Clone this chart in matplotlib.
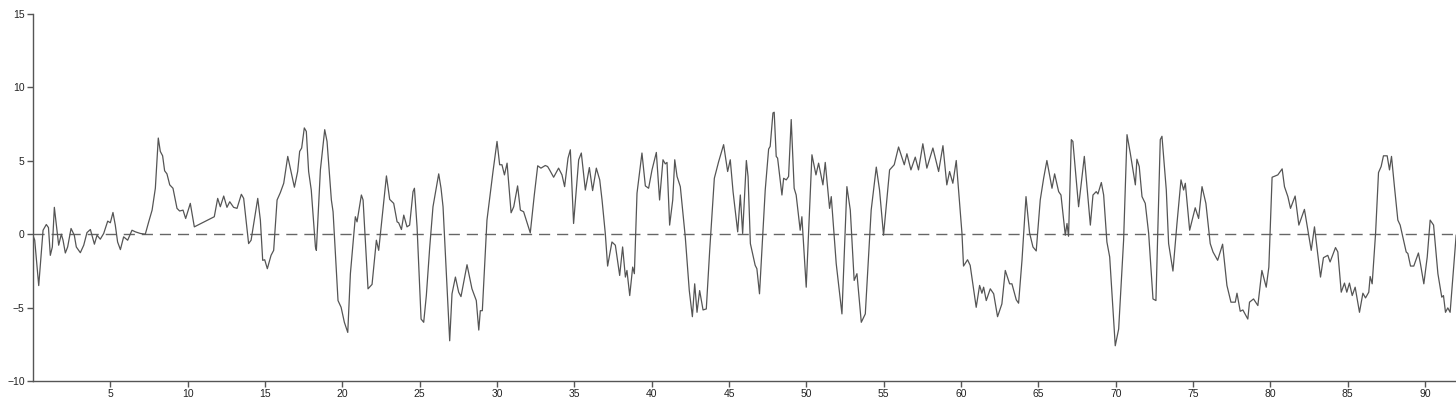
import matplotlib
matplotlib.use('Agg')
import matplotlib.pyplot as plt

# values, (time, value)
t = [0.0, 0.11, 0.37, 0.65, 0.86, 1.0, 1.12, 1.25, 1.38, 1.66, 1.83, 1.94, 2.09, 2.24, 2.46,
     2.67, 2.8, 3.06, 3.28, 3.49, 3.71, 3.97, 4.14, 4.35, 4.57, 4.83, 5.0, 5.17, 5.32, 5.47,
     5.65, 5.86, 6.12, 6.4, 6.62, 6.94, 7.26, 7.48, 7.7, 7.91, 8.1, 8.23, 8.38, 8.51, 8.66,
     8.84, 9.05, 9.31, 9.48, 9.7, 9.87, 10.17, 10.43, 11.72, 11.94, 12.11, 12.33, 12.54, 12.72,
     12.97, 13.19, 13.47, 13.62, 13.75, 13.94, 14.1, 14.31, 14.53, 14.7, 14.85, 14.98, 15.15,
     15.39, 15.56, 15.78, 15.99,
     16.21, 16.47, 16.9, 17.11, 17.24, 17.37, 17.54, 17.67, 17.82, 17.99, 18.26, 18.32, 18.58,
     18.86, 19.01, 19.29, 19.4, 19.72, 19.92, 20.13, 20.35, 20.52, 20.84, 20.95, 21.23, 21.34,
     21.66, 21.92, 22.2, 22.35, 22.85, 23.06, 23.32, 23.54, 23.64, 23.82, 23.97, 24.18, 24.35,
     24.57, 24.66, 24.83, 25.09, 25.26, 25.43, 25.65, 25.86, 26.23, 26.38, 26.51, 26.94, 27.09,
     27.31, 27.52, 27.67, 28.06, 28.38, 28.66, 28.82, 28.92, 29.05, 29.35, 29.74, 30.0, 30.17,
     30.32, 30.48, 30.65, 30.91,
     31.08, 31.33, 31.51, 31.72, 32.15, 32.41, 32.63, 32.84, 33.12, 33.27, 33.4, 33.66, 33.98,
     34.2, 34.37, 34.59, 34.74, 34.95, 35.28, 35.45, 35.71, 35.97, 36.18, 36.42, 36.64, 36.79,
     37.0, 37.15, 37.43, 37.65, 37.93, 38.12, 38.3, 38.4, 38.58, 38.77, 38.88, 39.05, 39.37,
     39.59, 39.8, 40.02, 40.3, 40.51, 40.73, 40.88, 40.99, 41.16, 41.36, 41.49, 41.64, 41.85,
     42.17, 42.43, 42.63, 42.78, 42.93, 43.1, 43.32, 43.53, 43.75, 44.05, 44.33, 44.65, 44.91,
     45.08, 45.26, 45.56, 45.73, 45.88, 46.12, 46.23,
     46.38, 46.69, 46.8, 46.97, 47.34, 47.56, 47.66, 47.84, 47.92, 48.05, 48.14, 48.42, 48.53,
     48.7, 48.85, 49.02, 49.21, 49.34, 49.6, 49.71, 49.99, 50.36, 50.62, 50.79, 51.07, 51.22,
     51.5, 51.61, 51.93, 52.3, 52.62, 52.84, 53.09, 53.27, 53.55, 53.81, 54.19, 54.52, 54.73,
     54.99, 55.38, 55.68, 55.96, 56.33, 56.5, 56.76, 57.04, 57.25, 57.53, 57.79, 58.18, 58.55,
     58.83, 59.08, 59.26, 59.47, 59.69, 60.06, 60.16, 60.42, 60.59, 60.98, 61.2, 61.35, 61.46,
     61.63, 61.89,
     62.11, 62.36, 62.64, 62.86, 63.14, 63.29, 63.57, 63.72, 63.94, 64.2, 64.43, 64.65, 64.86,
     65.12, 65.34, 65.55, 65.88, 66.05, 66.31, 66.46, 66.74, 66.85, 66.95, 67.13, 67.23, 67.6,
     67.97, 68.36, 68.53, 68.74, 68.85, 69.07, 69.22, 69.43, 69.61, 69.97, 70.19, 70.51, 70.73,
     70.94, 71.27, 71.37, 71.52, 71.7, 71.91, 72.13, 72.41, 72.6, 72.88, 72.99, 73.27, 73.42,
     73.7, 73.96, 74.22, 74.39, 74.5, 74.78, 75.14, 75.36, 75.58, 75.83, 76.11, 76.29, 76.59,
     76.91, 77.19, 77.45, 77.73, 77.84,
     78.05, 78.22, 78.54, 78.65, 78.91, 79.19, 79.45, 79.73, 79.9, 80.11, 80.48, 80.76, 80.91,
     81.13, 81.3, 81.6, 81.84, 82.2, 82.64, 82.85, 83.24, 83.43, 83.71, 83.86, 84.21, 84.36,
     84.58, 84.79, 84.94, 85.11, 85.29, 85.48, 85.76, 85.98, 86.15, 86.36, 86.45, 86.58, 86.8,
     86.99, 87.16, 87.31, 87.55, 87.7, 87.83, 88.02, 88.24, 88.39, 88.78, 88.89, 89.06, 89.27,
     89.57, 89.7, 89.92, 90.14, 90.33, 90.55, 90.83, 91.08, 91.19, 91.32, 91.47, 91.62, 92.01]

v = [-0.1, -0.4, -3.5, 0.27, 0.66, 0.45, -1.44, -0.87, 1.83, -0.75, 0.0, -0.4, -1.28, -0.87, 0.39,
     -0.07, -0.87, -1.26, -0.75, 0.11, 0.32, -0.68, -0.07, -0.34, 0.05, 0.89, 0.78, 1.48, 0.62, -0.53,
     -1.05, -0.18, -0.41, 0.27, 0.16, 0.05, 0.0, 0.84, 1.64, 3.13, 6.55, 5.64, 5.34, 4.32, 4.11,
     3.36, 3.13, 1.76, 1.58, 1.64, 1.07, 2.1, 0.5, 1.19, 2.44, 1.87, 2.6, 1.83, 2.21,
     1.83, 1.76, 2.72, 2.44, 1.19, -0.64, -0.41, 0.96, 2.44, 0.96, -1.78, -1.74, -2.35,
     -1.44, -1.1, 2.33, 2.83,
     3.47, 5.3, 3.2, 4.27, 5.64, 5.87, 7.24, 7.0, 4.27, 3.01, -0.87, -1.1, 4.38,
     7.12, 6.32, 2.33, 1.53, -4.52, -4.98, -6.0, -6.69, -2.69, 1.19, 0.84, 2.67, 2.33,
     -3.72, -3.42, -0.41, -1.1, 3.97, 2.37, 2.1, 0.84, 0.78, 0.32, 1.3, 0.5, 0.62,
     2.9, 3.13, 0.5, -5.78, -6.0, -4.18, -0.87, 1.87, 4.11, 3.13, 1.87, -7.26, -4.06,
     -2.92, -3.95, -4.25, -2.08, -3.72, -4.52, -6.53, -5.21, -5.21, 0.96, 4.27, 6.32, 4.73,
     4.73, 4.04, 4.84, 1.46,
     1.87, 3.29, 1.64, 1.53, 0.09, 2.67, 4.66, 4.5, 4.68, 4.61, 4.38, 3.88, 4.5,
     4.04, 3.24, 5.18, 5.75, 0.73, 5.07, 5.53, 3.01, 4.54, 2.97, 4.5, 3.7, 2.33,
     0.05, -2.17, -0.53, -0.75, -2.81, -0.87, -2.92, -2.47, -4.18, -2.24, -2.69, 2.79, 5.53,
     3.29, 3.13, 4.38, 5.57, 2.33, 5.07, 4.79, 4.89, 0.62, 2.33, 5.07, 3.93, 3.24,
     -0.18, -3.84, -5.62, -3.38, -5.32, -3.84, -5.16, -5.09, -1.1, 3.81, 4.95, 6.1, 4.27,
     5.07, 2.9, 0.16, 2.67, 0.05, 5.02, 3.93,
     -0.64, -2.12, -2.35, -4.06, 3.01, 5.8, 5.98, 8.26, 8.31, 5.3, 5.18, 2.67, 3.81,
     3.7, 3.93, 7.81, 3.13, 2.67, 0.27, 1.19, -3.61, 5.41, 4.04, 4.84, 3.36, 4.89,
     1.76, 2.56, -2.01, -5.43, 3.24, 1.64, -3.15, -2.69, -6.0, -5.43, 1.64, 4.57, 3.01,
     -0.07, 4.38, 4.73, 5.94, 4.73, 5.48, 4.38, 5.25, 4.38, 6.16, 4.5, 5.87, 4.27,
     6.03, 3.36, 4.27, 3.47, 5.02, 0.05, -2.17, -1.74, -2.12, -4.98, -3.49, -4.02, -3.61,
     -4.52, -3.72,
     -4.06, -5.62, -4.75, -2.47, -3.38, -3.38, -4.47, -4.7, -1.78, 2.56, 0.09, -0.87, -1.14,
     2.33, 3.81, 5.02, 3.13, 4.11, 2.9, 2.67, -0.07, 0.73, -0.14, 6.44, 6.32, 1.87,
     5.3, 0.62, 2.67, 2.9, 2.74, 3.52, 2.67, -0.53, -1.55, -7.6, -6.46, -0.41, 6.78,
     5.53, 3.36, 5.11, 4.61, 2.56, 2.1, 0.05, -4.41, -4.52, 6.44, 6.67, 3.01, -0.64,
     -2.51, 0.73, 3.7, 3.01, 3.47, 0.27, 1.8, 1.07, 3.24, 2.1, -0.64, -1.21, -1.78,
     -0.68, -3.49, -4.63, -4.63, -4.02,
     -5.25, -5.16, -5.78, -4.63, -4.41, -4.86, -2.47, -3.61, -2.24, 3.88, 4.04, 4.45, 3.24,
     2.56, 1.76, 2.6, 0.62, 1.69, -1.1, 0.5, -2.92, -1.6, -1.44, -1.89, -0.91, -1.21,
     -3.95, -3.33, -3.95, -3.33, -4.18, -3.61, -5.32, -4.02, -4.34, -3.95, -2.88, -3.38, 0.05,
     4.2, 4.61, 5.34, 5.34, 4.38, 5.3, 3.24, 0.96, 0.62, -1.21, -1.32, -2.17, -2.17,
     -1.28, -2.01, -3.38, -1.55, 0.96, 0.62, -2.69, -4.29, -4.18, -5.32, -5.02, -5.32, -0.07]

x_ticks = [5, 10, 15, 20, 25, 30, 35, 40, 45, 50, 55, 60, 65, 70, 75, 80, 85, 90]
y_ticks = [-10, -5, 0, 5, 10, 15]

plt.rcParams['font.family'] = ['Liberation Sans', 'DejaVu Sans']

fig = plt.figure(figsize=(14.56, 4.04), dpi=100)
ax = fig.add_axes([33 / 1456, 23 / 404, 1 - 33 / 1456, 367 / 404])

ax.axhline(0, color='#666666', lw=1, dashes=(8, 5))
ax.plot(t, v, color='#555555', lw=0.9)

ax.set_xlim(0, 92)
ax.set_ylim(-10, 15)
ax.set_xticks(x_ticks)
ax.set_yticks(y_ticks)

for side in ['top', 'right']:
    ax.spines[side].set_visible(False)
for side in ['left', 'bottom']:
    ax.spines[side].set_color('#555555')
    ax.spines[side].set_linewidth(1)
ax.tick_params(length=4, width=1, color='#555555', labelsize=7.5, labelcolor='#222222', pad=2)

fig.savefig('out.png', dpi=100)
